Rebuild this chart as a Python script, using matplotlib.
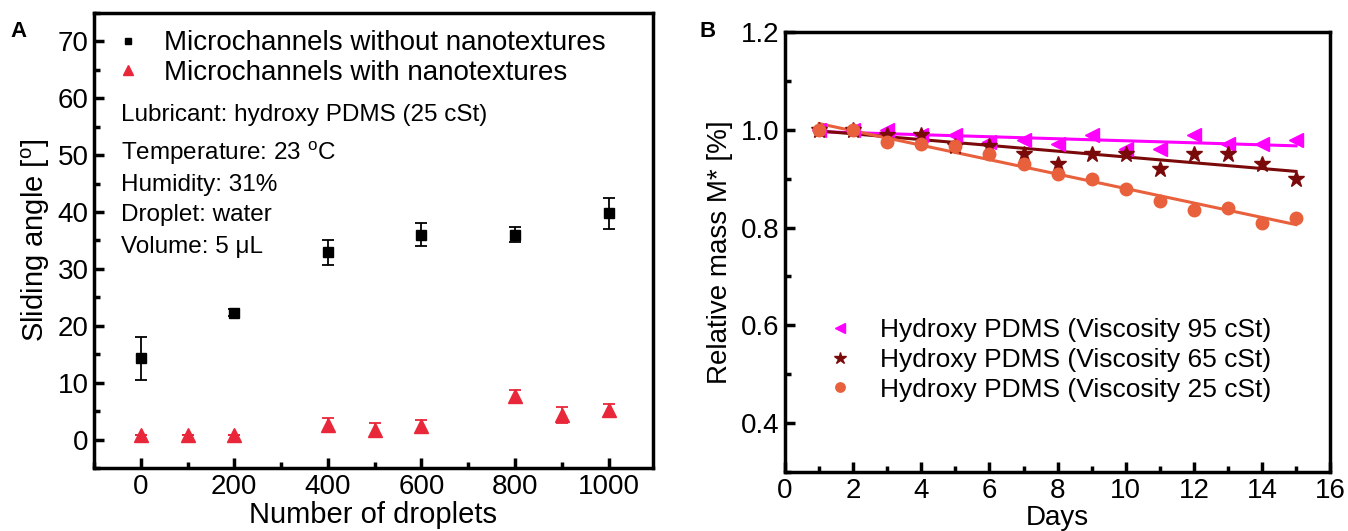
import numpy as np
import matplotlib.pyplot as plt
from matplotlib.ticker import MultipleLocator

plt.rcParams['font.family'] = ['Liberation Sans', 'DejaVu Sans']
plt.rcParams['mathtext.fontset'] = 'custom'
plt.rcParams['mathtext.rm'] = 'Liberation Sans'

# panel A: sliding angle vs number of droplets
drops_without = [0, 200, 400, 600, 800, 1000]
angle_without = [14.3, 22.3, 32.9, 36.0, 36.0, 39.8]
err_without = [3.8, 0.6, 2.2, 2.0, 1.3, 2.7]

drops_with = [0, 100, 200, 400, 500, 600, 800, 900, 1000]
angle_with = [0.8, 0.8, 0.8, 2.6, 1.7, 2.3, 7.6, 4.3, 5.2]
err_with = [0.0, 0.0, 0.0, 1.2, 1.2, 1.2, 1.2, 1.45, 1.1]

# panel B: relative mass vs days
days = list(range(1, 16))
mass_95 = [1.00, 1.00, 1.00, 0.99, 0.99, 0.975, 0.98, 0.97, 0.99, 0.96, 0.96, 0.99, 0.97, 0.97, 0.98]
mass_65 = [1.00, 1.00, 0.99, 0.99, 0.967, 0.967, 0.95, 0.93, 0.95, 0.95, 0.92, 0.95, 0.95, 0.93, 0.90]
mass_25 = [1.00, 1.00, 0.976, 0.97, 0.967, 0.95, 0.93, 0.91, 0.90, 0.878, 0.854, 0.835, 0.84, 0.81, 0.82]

RED = '#e8283a'
MAGENTA = '#ff00ff'
DARKRED = '#7a0a0a'
ORANGE = '#e8603c'


def style_axes(ax):
    for sp in ax.spines.values():
        sp.set_linewidth(2.5)
    ax.tick_params(which='major', direction='in', length=7, width=2.5, labelsize=20, pad=4)
    ax.tick_params(which='minor', direction='in', length=4, width=2.5)


def main():
    fig = plt.figure(figsize=(13.48, 5.31), dpi=100)

    # ---- panel A
    ax = fig.add_axes([0.0697, 0.1186, 0.4147, 0.857])
    ax.errorbar(drops_without, angle_without, yerr=err_without, fmt='none', ecolor='black',
                capsize=4.5, elinewidth=1.3, capthick=1.3)
    ax.plot(drops_without, angle_without, 's', color='black', ms=7,
            label='Microchannels without nanotextures')
    ax.plot(drops_with, angle_with, '^', color=RED, ms=10,
            label='Microchannels with nanotextures')
    ax.errorbar(drops_with, angle_with, yerr=err_with, fmt='none', ecolor=RED,
                capsize=4, elinewidth=1.3, capthick=1.3, zorder=3)
    ax.set_xlim(-100, 1095)
    ax.set_ylim(-5, 75)
    ax.xaxis.set_major_locator(MultipleLocator(200))
    ax.xaxis.set_minor_locator(MultipleLocator(100))
    ax.yaxis.set_major_locator(MultipleLocator(10))
    ax.yaxis.set_minor_locator(MultipleLocator(5))
    style_axes(ax)
    ax.set_xlabel('Number of droplets', fontsize=21, labelpad=1)
    ax.set_ylabel(r'Sliding angle [$^{\rm o}$]', fontsize=21, labelpad=4)
    ax.legend(loc='upper left', bbox_to_anchor=(0.036, 0.962), frameon=False, fontsize=20,
              handletextpad=0.8, borderaxespad=0, borderpad=0, labelspacing=0.12,
              handlelength=1.0, markerscale=0.7)
    notes = ['Lubricant: hydroxy PDMS (25 cSt)', r'Temperature: 23 $^{\rm o}$C',
             'Humidity: 31%', 'Droplet: water', 'Volume: 5 \u03bcL']
    ys = [0.776, 0.693, 0.622, 0.556, 0.486]
    for t, y in zip(notes, ys):
        ax.text(0.048, y, t, transform=ax.transAxes, fontsize=17.5, va='center')
    fig.text(0.008, 0.93, 'A', fontsize=16, fontweight='bold')

    # ---- panel B
    bx = fig.add_axes([0.5824, 0.1111, 0.4043, 0.8286])
    x = np.array(days)
    for vals, col, mk, ms, lab in [
        (mass_95, MAGENTA, '<', 10, 'Hydroxy PDMS (Viscosity 95 cSt)'),
        (mass_65, DARKRED, '*', 12, 'Hydroxy PDMS (Viscosity 65 cSt)'),
        (mass_25, ORANGE, 'o', 9, 'Hydroxy PDMS (Viscosity 25 cSt)'),
    ]:
        bx.plot(x, vals, mk, color=col, ms=ms, label=lab, zorder=3)
        k, b = np.polyfit(x, vals, 1)
        bx.plot(x, k * x + b, '-', color=col, lw=2.2, zorder=2)
    bx.set_xlim(0, 16)
    bx.set_ylim(0.3, 1.2)
    bx.xaxis.set_major_locator(MultipleLocator(2))
    bx.xaxis.set_minor_locator(MultipleLocator(1))
    bx.yaxis.set_minor_locator(MultipleLocator(0.1))
    bx.set_yticks([0.4, 0.6, 0.8, 1.0, 1.2])
    style_axes(bx)
    bx.set_xlabel('Days', fontsize=20, labelpad=1)
    bx.set_ylabel('Relative mass M* [%]', fontsize=20, labelpad=6)
    bx.legend(loc='upper left', bbox_to_anchor=(0.077, 0.35), frameon=False, fontsize=19,
              handletextpad=1.0, borderaxespad=0, borderpad=0, labelspacing=0.22,
              handlelength=1.0, markerscale=0.75)
    fig.text(0.519, 0.93, 'B', fontsize=16, fontweight='bold')

    plt.savefig('out.png', dpi=100)


if __name__ == '__main__':
    main()
